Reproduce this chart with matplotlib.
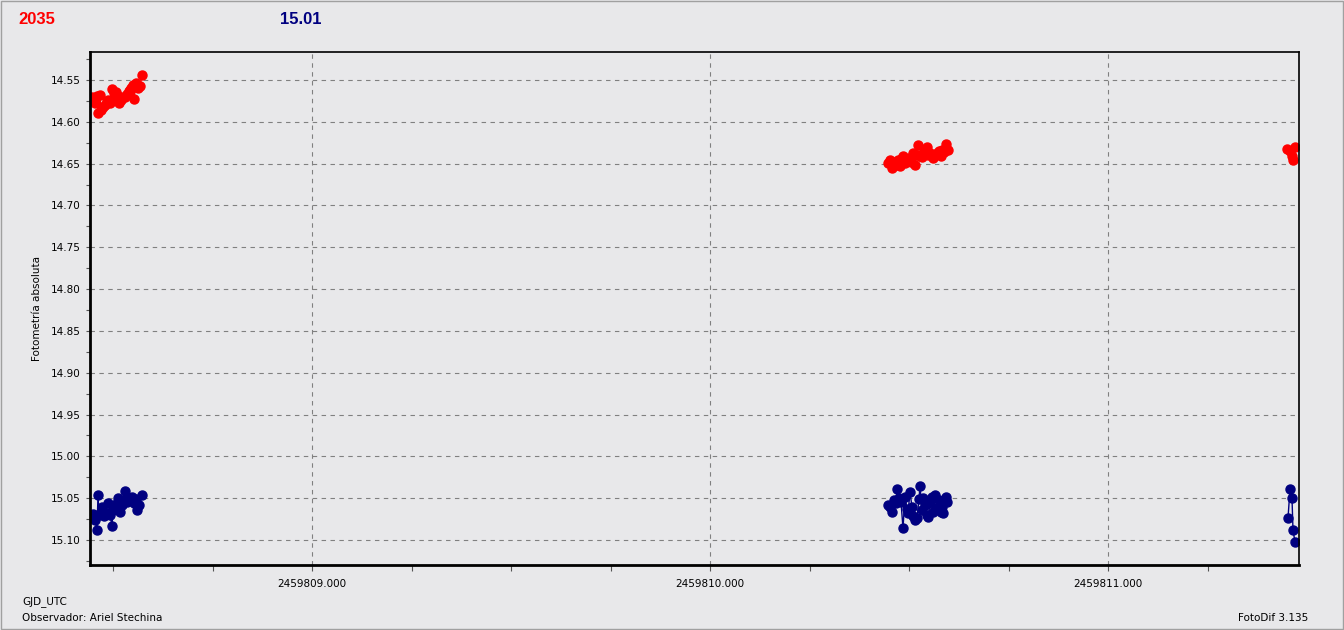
import matplotlib
matplotlib.use("Agg")
import matplotlib.pyplot as plt
from matplotlib.ticker import MultipleLocator, FormatStrFormatter
from matplotlib.patches import Rectangle

# sessions (GJD_UTC) - red = variable, blue = comparison
t_red1 = [2459808.4472, 2459808.4523, 2459808.4548, 2459808.4598, 2459808.4623, 2459808.4673,
          2459808.4698, 2459808.4749, 2459808.4799, 2459808.4849, 2459808.4874, 2459808.4925,
          2459808.4975, 2459808.5025, 2459808.5075, 2459808.5100, 2459808.5126, 2459808.5151,
          2459808.5201, 2459808.5251, 2459808.5301, 2459808.5352, 2459808.5402, 2459808.5427,
          2459808.5452, 2459808.5502, 2459808.5528, 2459808.5578, 2459808.5603, 2459808.5628,
          2459808.5678, 2459808.5729]
m_red1 = [14.5703, 14.5739, 14.5775, 14.5691, 14.5895, 14.5679, 14.5859, 14.5823, 14.5799, 14.5751,
          14.5739, 14.5775, 14.5608, 14.5655, 14.5643, 14.5703, 14.5691, 14.5775, 14.5739, 14.5703,
          14.5703, 14.5667, 14.5632, 14.5620, 14.5596, 14.5560, 14.5727, 14.5536, 14.5584, 14.5596,
          14.5572, 14.5440]

t_blue1 = [2459808.4472, 2459808.4497, 2459808.4548, 2459808.4598, 2459808.4623, 2459808.4648,
           2459808.4698, 2459808.4723, 2459808.4774, 2459808.4824, 2459808.4874, 2459808.4925,
           2459808.4975, 2459808.5000, 2459808.5050, 2459808.5100, 2459808.5126, 2459808.5176,
           2459808.5226, 2459808.5276, 2459808.5301, 2459808.5352, 2459808.5402, 2459808.5427,
           2459808.5477, 2459808.5528, 2459808.5578, 2459808.5603, 2459808.5653, 2459808.5729]
m_blue1 = [15.0725, 15.0689, 15.0761, 15.0880, 15.0462, 15.0701, 15.0665, 15.0605, 15.0713, 15.0677,
           15.0558, 15.0701, 15.0833, 15.0641, 15.0617, 15.0558, 15.0498, 15.0665, 15.0582, 15.0522,
           15.0414, 15.0546, 15.0498, 15.0522, 15.0486, 15.0558, 15.0510, 15.0641, 15.0582, 15.0462]

t_red2 = [2459810.4472, 2459810.4523, 2459810.4573, 2459810.4623, 2459810.4673, 2459810.4724,
          2459810.4774, 2459810.4824, 2459810.4849, 2459810.4899, 2459810.4950, 2459810.5000,
          2459810.5050, 2459810.5101, 2459810.5151, 2459810.5176, 2459810.5226, 2459810.5276,
          2459810.5327, 2459810.5377, 2459810.5452, 2459810.5477, 2459810.5528, 2459810.5603,
          2459810.5653, 2459810.5704, 2459810.5754, 2459810.5804, 2459810.5829, 2459810.5879,
          2459810.5930, 2459810.5980]
m_red2 = [14.6492, 14.6456, 14.6552, 14.6480, 14.6516, 14.6456, 14.6528, 14.6433, 14.6409, 14.6492,
          14.6456, 14.6433, 14.6480, 14.6373, 14.6516, 14.6397, 14.6277, 14.6409, 14.6421, 14.6361,
          14.6301, 14.6397, 14.6373, 14.6433, 14.6397, 14.6373, 14.6349, 14.6409, 14.6337, 14.6361,
          14.6265, 14.6337]

t_blue2 = [2459810.4472, 2459810.4523, 2459810.4573, 2459810.4623, 2459810.4673, 2459810.4698,
           2459810.4749, 2459810.4799, 2459810.4849, 2459810.4899, 2459810.4950, 2459810.4975,
           2459810.5025, 2459810.5075, 2459810.5101, 2459810.5151, 2459810.5201, 2459810.5251,
           2459810.5276, 2459810.5327, 2459810.5352, 2459810.5402, 2459810.5452, 2459810.5477,
           2459810.5528, 2459810.5578, 2459810.5603, 2459810.5653, 2459810.5704, 2459810.5754,
           2459810.5804, 2459810.5829, 2459810.5854, 2459810.5905, 2459810.5930, 2459810.5955]
m_blue2 = [15.0582, 15.0605, 15.0665, 15.0522, 15.0558, 15.0390, 15.0498, 15.0546, 15.0857, 15.0486,
           15.0629, 15.0677, 15.0426, 15.0605, 15.0713, 15.0761, 15.0737, 15.0510, 15.0354, 15.0641,
           15.0498, 15.0582, 15.0701, 15.0725, 15.0558, 15.0486, 15.0665, 15.0462, 15.0617, 15.0522,
           15.0665, 15.0605, 15.0677, 15.0522, 15.0486, 15.0546]

t_red3 = [2459811.4497, 2459811.4573, 2459811.4623, 2459811.4648, 2459811.4698]
m_red3 = [14.6325, 14.6349, 14.6409, 14.6457, 14.6301]

t_blue3 = [2459811.4523, 2459811.4573, 2459811.4623, 2459811.4648, 2459811.4698]
m_blue3 = [15.0737, 15.0390, 15.0498, 15.0880, 15.1024]

var_label = "2035"
comp_label = "15.01"

bg = '#e8e8ea'
red = '#ff0000'
navy = '#000080'

fig = plt.figure(figsize=(13.44, 6.3), dpi=100, facecolor=bg)
fig.patches.append(Rectangle((0.0008, 0.0015), 0.9984, 0.997, transform=fig.transFigure,
                             fill=False, edgecolor='#a0a0a0', lw=1))
ax = fig.add_axes([90/1344, 1-565/630, 1209/1344, 513/630], facecolor=bg)

for t, m in [(t_red1, m_red1), (t_red2, m_red2), (t_red3, m_red3)]:
    ax.plot(t, m, color=red, marker='o', ms=6.5, lw=1.0)
for t, m in [(t_blue1, m_blue1), (t_blue2, m_blue2), (t_blue3, m_blue3)]:
    ax.plot(t, m, color=navy, marker='o', ms=6.5, lw=1.0)

ax.set_xlim(2459808.4422, 2459811.4799)
ax.set_ylim(15.1299, 14.5165)

ax.xaxis.set_major_locator(MultipleLocator(1.0))
ax.xaxis.set_minor_locator(MultipleLocator(0.25))
ax.xaxis.set_major_formatter(FormatStrFormatter('%.3f'))
ax.yaxis.set_major_locator(MultipleLocator(0.05))
ax.yaxis.set_minor_locator(MultipleLocator(0.025))
ax.yaxis.set_major_formatter(FormatStrFormatter('%.2f'))

ax.tick_params(axis='both', which='both', labelsize=7.5, color='#555555', width=0.8)
ax.tick_params(axis='x', which='both', length=4, pad=6)
ax.tick_params(axis='y', which='both', length=3, pad=4)

ax.grid(True, which='major', color='#808080', linestyle=(0, (4, 4)), lw=0.8)
ax.set_axisbelow(True)

for s in ['left', 'bottom']:
    ax.spines[s].set_linewidth(2)
for s in ['top', 'right']:
    ax.spines[s].set_linewidth(1.2)

ax.set_ylabel('Fotometría absoluta', fontsize=7.5, labelpad=6)

fig.text(18/1344, 1-19/630, var_label, color=red, fontsize=12, fontweight='bold',
         family='Liberation Sans', va='center')
fig.text(280/1344, 1-19/630, comp_label, color=navy, fontsize=12, fontweight='bold',
         family='Liberation Sans', va='center')
fig.text(22/1344, 1-602/630, 'GJD_UTC', fontsize=7.5, va='center')
fig.text(22/1344, 1-618/630, 'Observador: Ariel Stechina', fontsize=7.5, va='center')
fig.text(1308/1344, 1-618/630, 'FotoDif 3.135', fontsize=7.5, va='center', ha='right')

fig.savefig('out.png', dpi=100, facecolor=bg)
